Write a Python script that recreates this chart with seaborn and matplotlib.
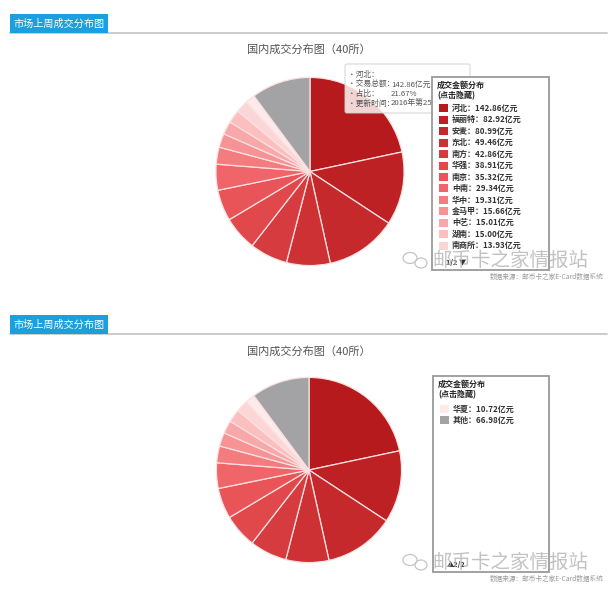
import matplotlib
matplotlib.use("Agg")
import matplotlib.pyplot as plt
import seaborn as sns
from matplotlib.patches import Rectangle, FancyBboxPatch, Ellipse

# ---- data ----
categories = ["河北", "福丽特", "安麦", "东北", "南方", "华强", "南京", "中南",
              "华中", "金马甲", "中艺", "湖南", "南商所", "华夏", "其他"]
values = [142.86, 82.92, 80.99, 49.46, 42.86, 38.91, 35.32, 29.34,
          19.31, 15.66, 15.01, 15.00, 13.93, 10.72, 66.98]
page1_count = 13
chart_title = "国内成交分布图（40所）"
header_text = "市场上周成交分布图"
legend_title = "成交金额分布"
legend_sub = "(点击隐藏)"
tooltip_lines = [("•河北：", ""), ("•交易总额：", "142.86亿元"),
                 ("•占比：", "21.67%"), ("•更新时间：", "2016年第25周")]
watermark = "邮币卡之家情报站"
source_text = "数据来源：邮币卡之家E-Card数据系统"

sns.set_theme(style="white")
plt.rcParams['font.family'] = ['Noto Sans CJK SC', 'DejaVu Sans']

W, H = 613, 589
fig = plt.figure(figsize=(W / 100, H / 100), dpi=100)
fig.patch.set_facecolor("white")

reds = sns.blend_palette(["#b71a1c", "#cf3336", "#ee5a5e", "#f9a3a5", "#fdebeb"], len(values) - 1)
colors = list(reds) + ["#a3a3a5"]


def add_pie(cx, cy, r):
    ax = fig.add_axes([(cx - r) / W, 1 - (cy + r) / H, 2 * r / W, 2 * r / H], zorder=1)
    ax.pie(values, colors=colors, startangle=90, counterclock=False, radius=1,
           wedgeprops=dict(edgecolor="#fbe1e1", linewidth=0.9))
    ax.set_xlim(-1.01, 1.01)
    ax.set_ylim(-1.01, 1.01)
    ax.set_aspect("auto")
    ax.axis("off")
    return ax


add_pie(310, 171.5, 95)
add_pie(309, 470, 93.5)

ov = fig.add_axes([0, 0, 1, 1], zorder=5)
ov.set_xlim(0, W)
ov.set_ylim(H, 0)
ov.axis("off")
ov.patch.set_alpha(0)


def header(y0):
    ov.plot([10, 607], [y0 + 19, y0 + 19], color="#c8c8c8", lw=1.3, zorder=1)
    ov.add_patch(Rectangle((10, y0), 98, 19, facecolor="#1ba0dd", edgecolor="none", zorder=2))
    ov.text(14, y0 + 9.8, header_text, color="white", fontsize=7.3, va="center", ha="left", zorder=3)


header(14)
header(315)

ov.text(309, 50, chart_title, ha="center", va="center", fontsize=8, color="#555555")
ov.text(309, 352, chart_title, ha="center", va="center", fontsize=8, color="#555555")

# tooltip
ov.add_patch(FancyBboxPatch((345, 64), 125, 49, boxstyle="round,pad=0,rounding_size=2",
                            facecolor="white", alpha=0.82, edgecolor="#d0d0d0", lw=0.8, zorder=4))
for i, (k, v) in enumerate(tooltip_lines):
    y = 75 + i * 9.5
    ov.text(348, y, k, fontsize=5.6, color="#555555", va="center", zorder=5)
    if v:
        ov.text(391, y, v, fontsize=5.6, color="#555555", va="center", zorder=5)


def legend(x0, y0, w, h, idxs, pager, first_y):
    ov.add_patch(Rectangle((x0, y0), w, h, facecolor="white", edgecolor="#9a9a9a", lw=1.3, zorder=6))
    ov.text(x0 + 5, y0 + 8, legend_title, fontsize=5.8, fontweight="bold", color="#222222", va="center", zorder=7)
    ov.text(x0 + 5, y0 + 19, legend_sub, fontsize=5.8, fontweight="bold", color="#222222", va="center", zorder=7)
    for j, i in enumerate(idxs):
        y = first_y + j * 11.45
        ov.add_patch(Rectangle((x0 + 7, y - 4), 9, 8, facecolor=colors[i], edgecolor="none", zorder=7))
        ov.text(x0 + 20, y, f"{categories[i]}：{values[i]:.2f}亿元", fontsize=5.8,
                fontweight="bold", color="#333333", va="center", zorder=7)
    ov.text(x0 + 14, y0 + h - 8, pager, fontsize=5.2, fontweight="bold", color="#333333",
            va="center", zorder=7)


legend(432, 77, 117, 193, list(range(page1_count)), "1/2 ▼", 108.3)
legend(433, 376, 116, 196, list(range(page1_count, len(values))), "▲2/2", 409)


def mark(yc):
    ov.add_patch(Ellipse((410, yc - 2), 14, 11, fill=False, edgecolor="#c4c4c4", lw=0.9, zorder=8))
    ov.add_patch(Ellipse((421, yc + 3), 12, 10, fill=False, edgecolor="#c4c4c4", lw=0.9, zorder=8))
    ov.text(432, yc, watermark, fontsize=14, color="#b8b8b8", alpha=0.85, va="center", ha="left", zorder=8)
    ov.text(604, yc + 17, source_text, fontsize=4.8, color="#999999", va="center", ha="right", zorder=8)


mark(260)
mark(562)

fig.savefig("out.png", dpi=100, facecolor="white")
